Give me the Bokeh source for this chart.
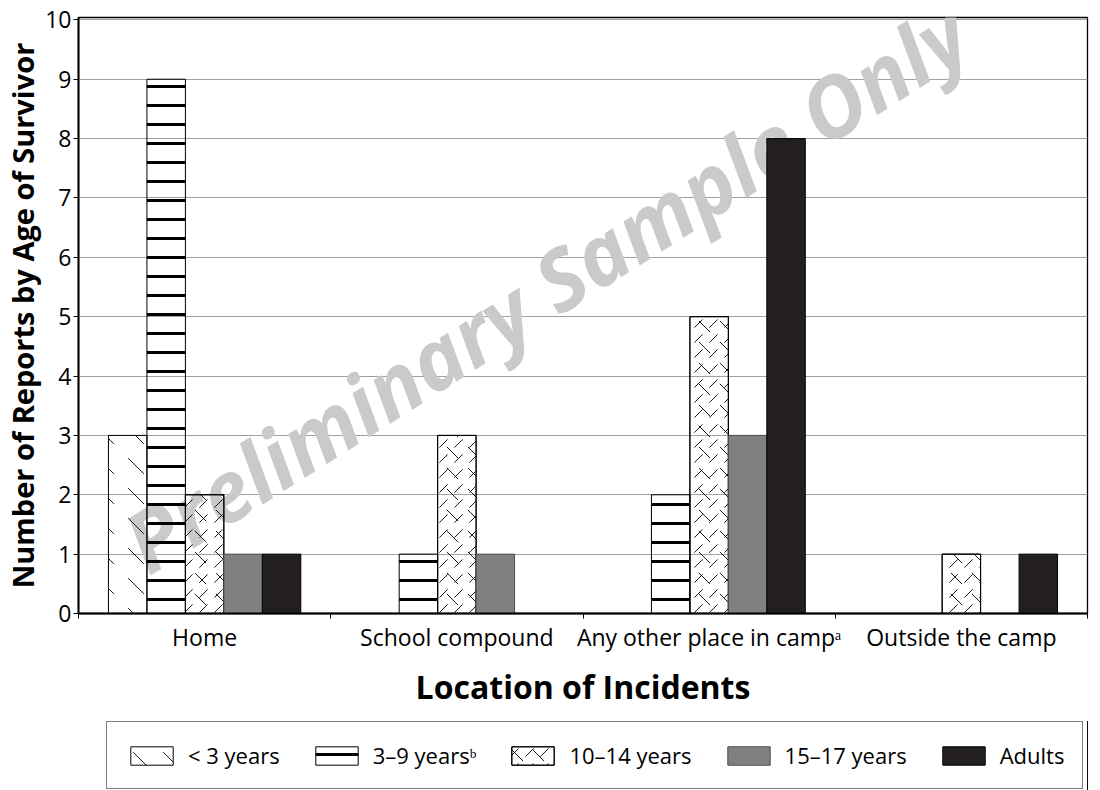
from bokeh.plotting import figure
from bokeh.layouts import column
from bokeh.models import (Range1d, Legend, LegendItem, Label,
                          ColumnDataSource, FixedTicker, LinearAxis)
from bokeh.transform import dodge
from bokeh.embed import file_html
from bokeh.resources import INLINE

# ---------------- data ----------------
locations = ["Home", "School compound", "Any other place in camp\u1d43", "Outside the camp"]
age_groups = ["< 3 years", "3\u20139 years\u1d47", "10\u201314 years", "15\u201317 years", "Adults"]
under_3 = [3, 0, 0, 0]
age_3_9 = [9, 1, 2, 0]
age_10_14 = [2, 3, 5, 1]
age_15_17 = [1, 1, 3, 0]
adults = [1, 0, 8, 1]
y_ticks = list(range(0, 11))

FONT = "Open Sans"
n = len(locations)
centers = [i + 0.5 for i in range(n)]
bounds = list(range(n + 1))

src = ColumnDataSource(dict(loc=centers, s0=under_3, s1=age_3_9, s2=age_10_14,
                            s3=age_15_17, s4=adults))

p = figure(width=1092, height=721, x_range=Range1d(0, n),
           y_range=Range1d(0, 10.04), output_backend="svg", toolbar_location=None,
           x_axis_location=None,
           min_border_left=77, min_border_right=5, min_border_top=17, min_border_bottom=108)
p.background_fill_color = "white"
p.border_fill_color = "white"
p.outline_line_color = "black"
p.outline_line_width = 1.3

# watermark (behind the bars)
wm = Label(x=1.85, y=5.5, text="Preliminary Sample Only", angle=0.565,
           text_font=FONT, text_font_size="84px", text_font_style="bold italic",
           text_color="#cacaca", text_align="center", text_baseline="middle",
           level="underlay")
p.add_layout(wm)

bw = 0.1525
offsets = [-2 * bw, -bw, 0, bw, 2 * bw]
clear = dict(fill_color="white", fill_alpha=0, hatch_color="black", line_color="black", line_width=1)


def draw_bars(fig):
    out = []
    r0 = fig.vbar(x=dodge("loc", offsets[0]), top="s0", width=bw, source=src,
                  hatch_pattern="left_diagonal_dash", hatch_scale=30, hatch_weight=0.9, **clear)
    out.append([r0])
    r1 = fig.vbar(x=dodge("loc", offsets[1]), top="s1", width=bw, source=src,
                  hatch_pattern="horizontal_line", hatch_scale=19, hatch_weight=3, **clear)
    out.append([r1])
    r2a = fig.vbar(x=dodge("loc", offsets[2]), top="s2", width=bw, source=src,
                   hatch_pattern="right_diagonal_dash", hatch_scale=15, hatch_weight=0.9, **clear)
    r2b = fig.vbar(x=dodge("loc", offsets[2]), top="s2", width=bw, source=src,
                   hatch_pattern="left_diagonal_dash", hatch_scale=21, hatch_weight=0.9, **clear)
    out.append([r2a, r2b])
    r3 = fig.vbar(x=dodge("loc", offsets[3]), top="s3", width=bw, source=src,
                  fill_color="#808080", line_color="#4d4d4d", line_width=1)
    out.append([r3])
    r4 = fig.vbar(x=dodge("loc", offsets[4]), top="s4", width=bw, source=src,
                  fill_color="#231f20", line_color="black", line_width=1)
    out.append([r4])
    return out


draw_bars(p)

# grid
p.xgrid.visible = False
p.ygrid.ticker = FixedTicker(ticks=y_ticks)
p.ygrid.grid_line_color = "#a0a0a0"
p.ygrid.grid_line_width = 1.2

# y axis
ya = p.yaxis[0]
ya.ticker = FixedTicker(ticks=y_ticks)
ya.axis_label = "Number of Reports by Age of Survivor"
ya.axis_label_text_font = FONT
ya.axis_label_text_font_style = "bold"
ya.axis_label_text_font_size = "29px"
ya.axis_label_text_color = "black"
ya.axis_label_standoff = 0
ya.major_label_text_font = FONT
ya.major_label_text_font_size = "23px"
ya.major_label_text_color = "black"
ya.major_label_standoff = 2
ya.major_tick_out = 5
ya.major_tick_in = 0
ya.minor_tick_line_color = None
ya.axis_line_width = 2
ya.axis_line_color = "black"
ya.major_tick_line_color = "black"

# x axis: boundary ticks (axis line) + category labels
tick_axis = LinearAxis(ticker=FixedTicker(ticks=bounds),
                       major_label_overrides={b: "" for b in bounds},
                       major_label_text_font_size="1px", major_label_standoff=0,
                       major_tick_out=5, major_tick_in=0, minor_tick_line_color=None,
                       axis_line_width=2, axis_line_color="black", major_tick_line_color="black")
p.add_layout(tick_axis, "below")

xa = LinearAxis(ticker=FixedTicker(ticks=centers),
                major_label_overrides={c: name for c, name in zip(centers, locations)})
xa.axis_label = "Location of Incidents"
xa.axis_label_text_font = FONT
xa.axis_label_text_font_style = "bold"
xa.axis_label_text_font_size = "32px"
xa.axis_label_text_color = "black"
xa.axis_label_standoff = 9
xa.major_label_text_font = FONT
xa.major_label_text_font_size = "23px"
xa.major_label_text_color = "black"
xa.major_label_standoff = 2
xa.major_tick_line_color = None
xa.minor_tick_line_color = None
xa.major_tick_out = 0
xa.major_tick_in = 0
xa.axis_line_color = None
p.add_layout(xa, "below")

# ---- legend strip (a second, axis-less figure holding only the legend) ----
p2 = figure(width=1092, height=69, x_range=Range1d(-20, -19), y_range=Range1d(0, 1),
            output_backend="svg", toolbar_location=None, x_axis_location=None,
            y_axis_location=None, min_border=0)
p2.outline_line_color = None
p2.xgrid.visible = False
p2.ygrid.visible = False
p2.background_fill_color = "white"
p2.border_fill_color = "white"
leg_renderers = draw_bars(p2)
items = [LegendItem(label=name, renderers=rs) for name, rs in zip(age_groups, leg_renderers)]
legend = Legend(items=items, orientation="horizontal", location=(28, 1),
                glyph_width=53, glyph_height=23, label_standoff=10, spacing=30,
                padding=18, margin=0, label_text_font=FONT, label_text_font_size="22px",
                label_text_color="black", border_line_color="black", border_line_width=1.2,
                background_fill_color="white", background_fill_alpha=1)
p2.add_layout(legend)

layout = column(p, p2, spacing=0)
open("out.html", "w").write(file_html(layout, INLINE))
